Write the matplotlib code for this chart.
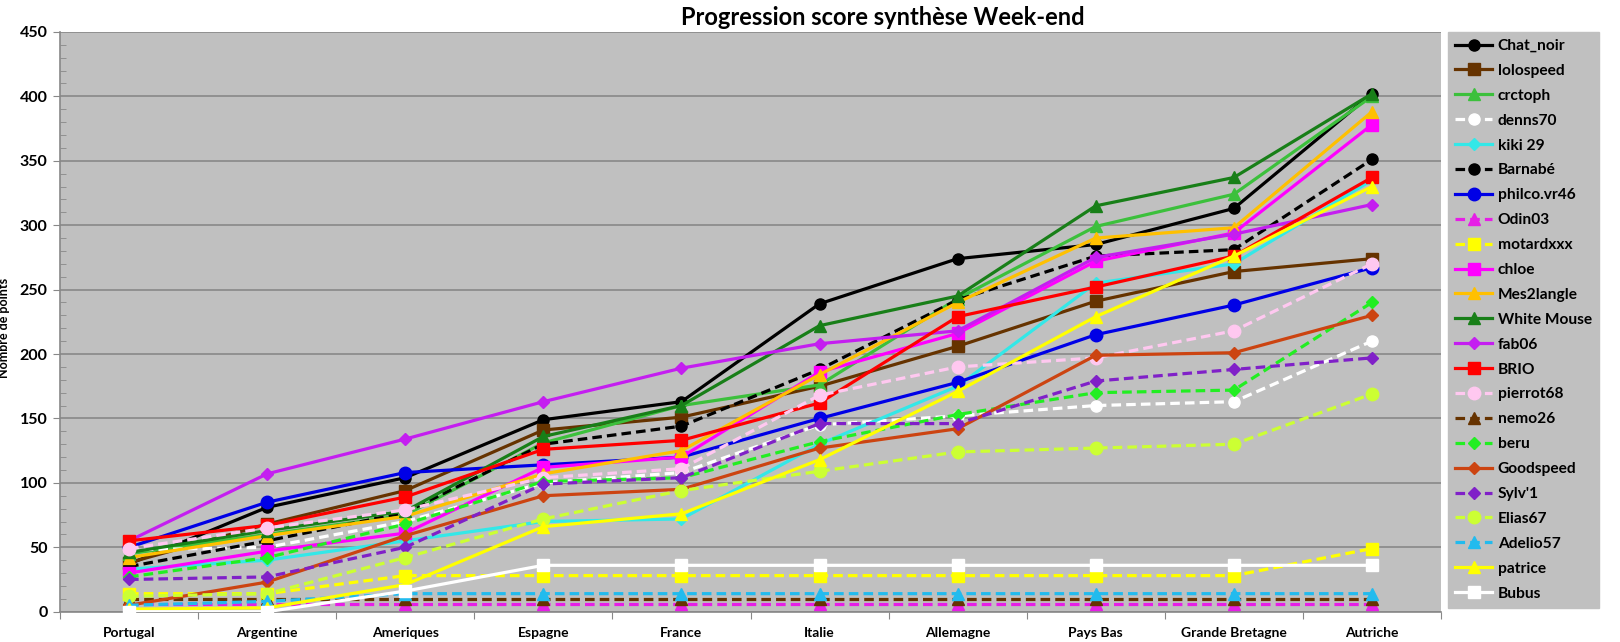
import matplotlib
matplotlib.use("Agg")
import matplotlib.pyplot as plt
from matplotlib.ticker import MultipleLocator, FixedLocator, NullFormatter

plt.rcParams['font.family'] = ['Lato', 'DejaVu Sans']

categories = ["Portugal", "Argentine", "Ameriques", "Espagne", "France", "Italie",
              "Allemagne", "Pays Bas", "Grande Bretagne", "Autriche"]

chat_noir   = [37, 81, 104, 149, 163, 239, 274, 285, 313, 402]
lolospeed   = [38, 68, 94, 141, 151, 175, 206, 241, 264, 274]
crctoph     = [45, 60, 75, 131, 160, 176, 243, 299, 324, 400]
denns70     = [48, 50, 70, 100, 108, 145, 152, 160, 163, 210]
kiki29      = [33, 40, 55, 70, 72, 130, 175, 255, 270, 335]
barnabe     = [35, 55, 77, 130, 144, 188, 242, 276, 281, 351]
philco      = [50, 85, 108, 114, 120, 150, 178, 215, 238, 267]
odin03      = [6, 6, 6, 6, 6, 6, 6, 6, 6, 6]
motardxxx   = [14, 14, 28, 28, 28, 28, 28, 28, 28, 49]
chloe       = [30, 47, 61, 112, 120, 186, 216, 272, 294, 378]
mes2langle  = [42, 59, 74, 107, 125, 184, 240, 290, 298, 388]
white_mouse = [46, 63, 78, 136, 160, 222, 245, 315, 337, 402]
fab06       = [55, 107, 134, 163, 189, 208, 218, 275, 293, 316]
brio        = [55, 67, 89, 126, 133, 162, 229, 252, 276, 337]
pierrot68   = [49, 65, 79, 104, 111, 168, 190, 197, 218, 270]
nemo26      = [10, 10, 10, 10, 10, 10, 10, 10, 10, 10]
beru        = [27, 42, 68, 101, 104, 132, 153, 170, 172, 240]
goodspeed   = [5, 23, 59, 90, 95, 127, 142, 199, 201, 230]
sylv1       = [25, 27, 50, 99, 104, 146, 146, 179, 188, 197]
elias67     = [12, 14, 42, 72, 94, 109, 124, 127, 130, 169]
adelio57    = [5, 8, 14, 14, 14, 14, 14, 14, 14, 14]
patrice     = [2, 3, 21, 66, 76, 118, 171, 229, 276, 330]
bubus       = [0, 0, 16, 36, 36, 36, 36, 36, 36, 36]

series = [
    ("Chat_noir", chat_noir, "#000000", "o", "-", 8),
    ("lolospeed", lolospeed, "#663300", "s", "-", 8),
    ("crctoph", crctoph, "#3CC03C", "^", "-", 8),
    ("denns70", denns70, "#FFFFFF", "o", "--", 8),
    ("kiki 29", kiki29, "#33E8E8", "D", "-", 6),
    ("Barnabé", barnabe, "#000000", "o", "--", 8),
    ("philco.vr46", philco, "#0000E6", "o", "-", 9),
    ("Odin03", odin03, "#E61EE6", "^", "--", 8),
    ("motardxxx", motardxxx, "#FFFF00", "s", "--", 9),
    ("chloe", chloe, "#FF00FF", "s", "-", 8),
    ("Mes2langle", mes2langle, "#FFC000", "^", "-", 8),
    ("White Mouse", white_mouse, "#187F18", "^", "-", 8),
    ("fab06", fab06, "#C41EF0", "D", "-", 6),
    ("BRIO", brio, "#FF0000", "s", "-", 8),
    ("pierrot68", pierrot68, "#FFC8F0", "o", "--", 9),
    ("nemo26", nemo26, "#663300", "^", "--", 8),
    ("beru", beru, "#22EE22", "D", "--", 6),
    ("Goodspeed", goodspeed, "#CC4411", "D", "-", 6),
    ("Sylv'1", sylv1, "#8020C8", "D", "--", 6),
    ("Elias67", elias67, "#CCFF33", "o", "--", 9),
    ("Adelio57", adelio57, "#22BBEE", "^", "--", 8),
    ("patrice", patrice, "#FFFF00", "^", "-", 8),
    ("Bubus", bubus, "#FFFFFF", "s", "-", 8),
]

fig = plt.figure(figsize=(16.2, 6.42), dpi=100)
ax = fig.add_axes([60 / 1620, 1 - 611.7 / 642, (1441 - 60) / 1620, (611.7 - 31.9) / 642])
ax.set_facecolor("#C0C0C0")

x = list(range(len(categories)))
handles = []
for name, vals, col, mk, ls, ms in series:
    h, = ax.plot(x, vals, color=col, marker=mk, linestyle=ls, linewidth=2.3,
                 markersize=ms, markeredgecolor=col, markerfacecolor=col,
                 label=name, dashes=(3, 1.6) if ls == "--" else (None, None), zorder=3)
    handles.append(h)

ax.set_xlim(-0.5, len(categories) - 0.5)
ax.set_ylim(0, 450)
ax.yaxis.set_major_locator(MultipleLocator(50))
ax.yaxis.set_minor_locator(MultipleLocator(10))
ax.grid(axis="y", which="major", color="#888888", linewidth=1.2, zorder=1)
ax.set_axisbelow(True)

ax.xaxis.set_major_locator(FixedLocator([i - 0.5 for i in range(len(categories) + 1)]))
ax.xaxis.set_major_formatter(NullFormatter())
ax.xaxis.set_minor_locator(FixedLocator(x))
ax.set_xticklabels(categories, minor=True, fontsize=10, fontweight="bold")
ax.tick_params(axis="x", which="major", length=5, color="#888888", direction="out")
ax.tick_params(axis="x", which="minor", length=0, pad=11)
ax.tick_params(axis="y", which="major", length=5, color="#888888", direction="out",
               labelsize=11.5, pad=4)
ax.tick_params(axis="y", which="minor", length=4, color="#888888", direction="in")
for lbl in ax.get_yticklabels():
    lbl.set_fontweight("bold")

for s in ["top", "right"]:
    ax.spines[s].set_visible(False)
for s in ["left", "bottom"]:
    ax.spines[s].set_color("#888888")
    ax.spines[s].set_linewidth(1.2)

ax.set_ylabel("Nombre de points", fontsize=9, fontweight="bold")
ax.yaxis.set_label_coords(-0.036, 0.49)

fig.text(883 / 1620, 1 - 17.5 / 642, "Progression score synthèse Week-end",
         ha="center", va="center", fontsize=17, fontweight="bold")

leg = fig.legend(handles=handles, loc="upper left",
                 bbox_to_anchor=(1448 / 1620, 1 - 32 / 642),
                 frameon=True, fancybox=False,
                 prop={"weight": "bold", "size": 11.2},
                 handlelength=2.4, labelspacing=0.70, borderpad=0.45,
                 handletextpad=0.35, borderaxespad=0)
leg.get_frame().set_facecolor("#C0C0C0")
leg.get_frame().set_edgecolor("#C0C0C0")
leg.get_frame().set_alpha(1)

fig.savefig("out.png", dpi=100)
